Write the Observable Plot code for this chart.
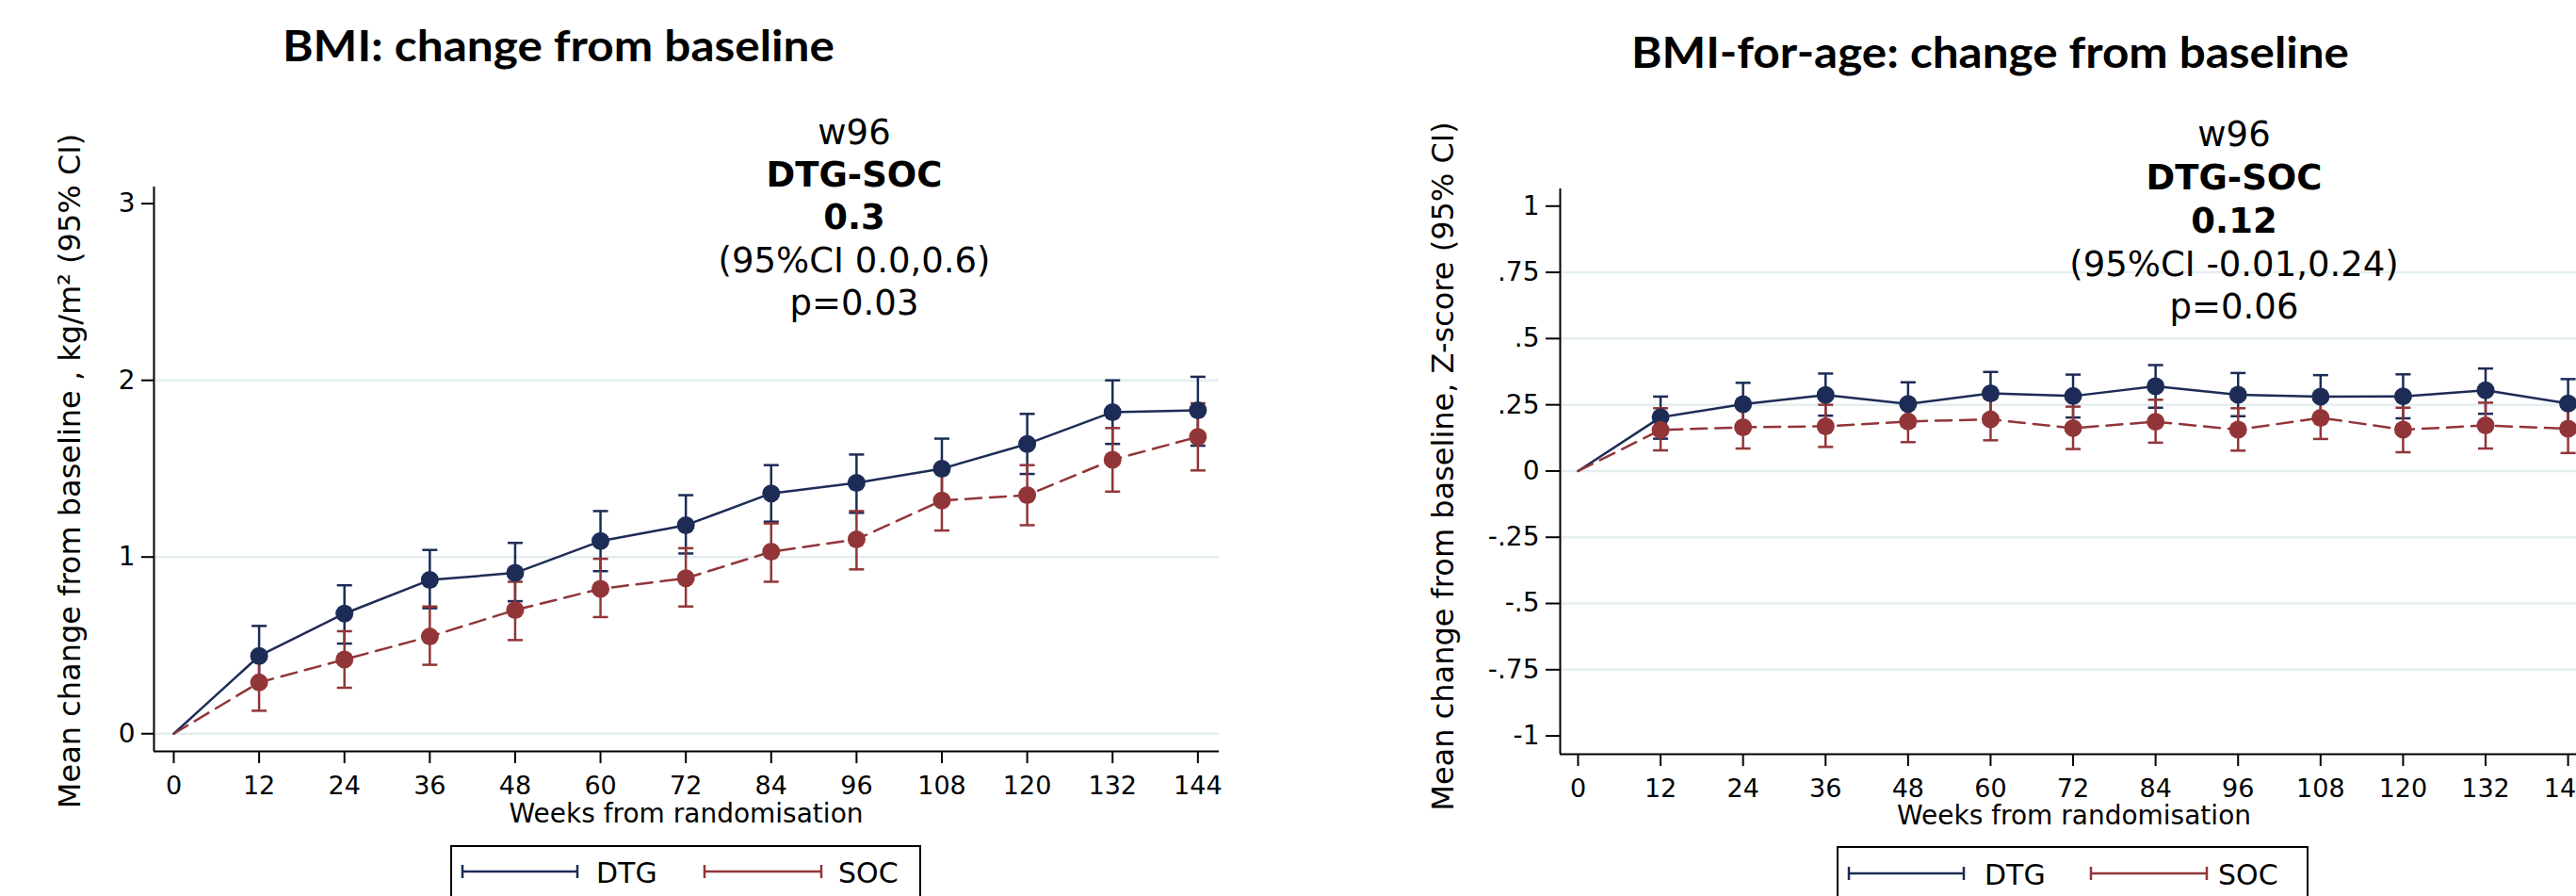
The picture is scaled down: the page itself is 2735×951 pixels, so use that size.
<!DOCTYPE html>
<html>
<head>
<meta charset="utf-8">
<script src="https://cdn.jsdelivr.net/npm/d3@7"></script>
<script src="https://cdn.jsdelivr.net/npm/@observablehq/plot@0.6"></script>
<style>
html, body { margin: 0; padding: 0; background: #fff; }
#page { position: relative; width: 2735px; height: 951px; overflow: hidden; background: #fff; }
.panel { position: absolute; }
.panel svg { max-width: none !important; }
#overlay { position: absolute; left: 0; top: 0; pointer-events: none; }
</style>
</head>
<body>
<div id="page"></div>
<script>
// ---------------- data ----------------
const weeks = [0, 12, 24, 36, 48, 60, 72, 84, 96, 108, 120, 132, 144];
const groups = ["DTG", "SOC"];

// BMI change from baseline (kg/m2)
const bmiDtgMean = [0, 0.44, 0.68, 0.87, 0.91, 1.09, 1.18, 1.36, 1.42, 1.50, 1.64, 1.82, 1.83];
const bmiDtgLo   = [null, 0.27, 0.51, 0.71, 0.75, 0.92, 1.02, 1.20, 1.25, 1.34, 1.47, 1.64, 1.63];
const bmiDtgHi   = [null, 0.61, 0.84, 1.04, 1.08, 1.26, 1.35, 1.52, 1.58, 1.67, 1.81, 2.00, 2.02];
const bmiSocMean = [0, 0.29, 0.42, 0.55, 0.70, 0.82, 0.88, 1.03, 1.10, 1.32, 1.35, 1.55, 1.68];
const bmiSocLo   = [null, 0.13, 0.26, 0.39, 0.53, 0.66, 0.72, 0.86, 0.93, 1.15, 1.18, 1.37, 1.49];
const bmiSocHi   = [null, 0.45, 0.58, 0.72, 0.86, 0.99, 1.05, 1.19, 1.26, 1.48, 1.52, 1.73, 1.87];

// BMI-for-age change from baseline (Z-score)
const zDtgMean = [0, 0.203, 0.252, 0.287, 0.253, 0.293, 0.283, 0.320, 0.288, 0.281, 0.282, 0.305, 0.255];
const zDtgLo   = [null, 0.122, 0.170, 0.209, 0.170, 0.210, 0.202, 0.239, 0.207, 0.200, 0.199, 0.216, 0.160];
const zDtgHi   = [null, 0.281, 0.333, 0.368, 0.335, 0.374, 0.364, 0.400, 0.370, 0.362, 0.365, 0.387, 0.347];
const zSocMean = [0, 0.155, 0.165, 0.169, 0.187, 0.195, 0.162, 0.186, 0.156, 0.201, 0.156, 0.172, 0.160];
const zSocLo   = [null, 0.078, 0.085, 0.091, 0.109, 0.116, 0.083, 0.107, 0.077, 0.121, 0.071, 0.085, 0.068];
const zSocHi   = [null, 0.237, 0.245, 0.250, 0.267, 0.275, 0.243, 0.269, 0.237, 0.280, 0.239, 0.258, 0.245];

// tick values
const xTicks = [0, 12, 24, 36, 48, 60, 72, 84, 96, 108, 120, 132, 144];
const bmiYTicks = [0, 1, 2, 3];
const bmiGridTicks = [0, 1, 2];
const zYTicks = [-1, -0.75, -0.5, -0.25, 0, 0.25, 0.5, 0.75, 1];
const zGridTicks = [-0.75, -0.5, -0.25, 0, 0.25, 0.5, 0.75];

// texts
const bmiTitle = "BMI: change from baseline";
const zTitle = "BMI-for-age: change from baseline";
const bmiYLabel = "Mean change from baseline , kg/m\u00B2 (95% CI)";
const zYLabel = "Mean change from baseline, Z-score (95% CI)";
const xLabel = "Weeks from randomisation";
const bmiNote = ["w96", "DTG-SOC", "0.3", "(95%CI 0.0,0.6)", "p=0.03"];
const zNote = ["w96", "DTG-SOC", "0.12", "(95%CI -0.01,0.24)", "p=0.06"];

// ---------------- styles ----------------
const navy = "#1d2c56";
const red = "#923539";
const gridColor = "#e4eef0";
const font = "DejaVu Sans";

const cap = {
  draw(context, size) {
    const w = Math.sqrt(size / Math.PI);
    context.moveTo(-w, 0);
    context.lineTo(w, 0);
  }
};

function series(mean, lo, hi, group) {
  return weeks.map((w, i) => ({week: w, mean: mean[i], lo: lo[i], hi: hi[i], group}));
}

function panel(o) {
  const dtg = series(o.dtgMean, o.dtgLo, o.dtgHi, groups[0]);
  const soc = series(o.socMean, o.socLo, o.socHi, groups[1]);
  const hasCI = d => d.lo != null;
  const notZero = d => d.week > 0;
  const bars = (data, color) => [
    Plot.ruleX(data.filter(hasCI), {x: "week", y1: "lo", y2: "hi", stroke: color, strokeWidth: 2.5}),
    Plot.dot(data.filter(hasCI), {x: "week", y: "lo", symbol: cap, r: 8, stroke: color, strokeWidth: 2.5, fill: "none"}),
    Plot.dot(data.filter(hasCI), {x: "week", y: "hi", symbol: cap, r: 8, stroke: color, strokeWidth: 2.5, fill: "none"})
  ];
  return Plot.plot({
    width: o.width,
    height: o.height,
    marginLeft: o.ml, marginRight: o.mr, marginTop: o.mt, marginBottom: o.mb,
    style: {fontFamily: font, fontSize: "27px", background: "transparent", overflow: "visible", color: "#000", maxWidth: "none"},
    x: {domain: o.xDomain},
    y: {domain: o.yDomain},
    marks: [
      Plot.gridY({ticks: o.gridTicks, stroke: gridColor, strokeOpacity: 1, strokeWidth: 2.5}),
      ...bars(dtg, navy),
      ...bars(soc, red),
      Plot.line(dtg, {x: "week", y: "mean", stroke: navy, strokeWidth: 2.5}),
      Plot.line(soc, {x: "week", y: "mean", stroke: red, strokeWidth: 2.5, strokeDasharray: "17,9"}),
      Plot.dot(dtg.filter(notZero), {x: "week", y: "mean", r: 9.5, fill: navy}),
      Plot.dot(soc.filter(notZero), {x: "week", y: "mean", r: 9.5, fill: red}),
      Plot.ruleX([o.xDomain[0]], {stroke: "#000", strokeWidth: 2}),
      Plot.ruleY([o.yDomain[0]], {stroke: "#000", strokeWidth: 2}),
      Plot.axisX({ticks: xTicks, tickSize: 13, tickPadding: 13, fontSize: 27, strokeWidth: 2, label: null, tickFormat: d => String(d)}),
      Plot.axisY({ticks: o.yTicks, tickSize: o.tickSize, tickPadding: 7, fontSize: 28, strokeWidth: 2, label: null, tickFormat: o.fmt})
    ]
  });
}

const page = document.getElementById("page");

function place(node, left, top, width, height) {
  const d = document.createElement("div");
  d.className = "panel";
  d.style.left = left + "px";
  d.style.top = top + "px";
  d.style.width = width + "px";
  d.style.height = height + "px";
  d.appendChild(node);
  page.appendChild(d);
}

place(panel({
  dtgMean: bmiDtgMean, dtgLo: bmiDtgLo, dtgHi: bmiDtgHi,
  socMean: bmiSocMean, socLo: bmiSocLo, socHi: bmiSocHi,
  width: 1330, height: 790, ml: 163, mr: 36, mt: 98, mb: 93,
  xDomain: [-2.78, 147], yDomain: [-0.1, 3.094],
  yTicks: bmiYTicks, gridTicks: bmiGridTicks, tickSize: 13,
  fmt: d => String(d)
}), 0, 100, 1330, 790);

place(panel({
  dtgMean: zDtgMean, dtgLo: zDtgLo, dtgHi: zDtgHi,
  socMean: zSocMean, socLo: zSocLo, socHi: zSocHi,
  width: 1384, height: 790, ml: 256, mr: 36, mt: 100, mb: 90,
  xDomain: [-2.6, 147], yDomain: [-1.069, 1.065],
  yTicks: zYTicks, gridTicks: zGridTicks, tickSize: 15,
  fmt: d => d === 0 ? "0" : String(d).replace(/^(-?)0\./, "$1.")
}), 1400, 100, 1384, 790);

// ---------------- overlay texts & legends ----------------
const svg = d3.select(page).append("svg")
  .attr("id", "overlay")
  .attr("width", 2735).attr("height", 951)
  .attr("font-family", font);

function title(text, cx, baseline, len) {
  svg.append("text").attr("x", cx).attr("y", baseline)
    .attr("text-anchor", "middle")
    .attr("font-family", "Lato").attr("font-weight", "bold").attr("font-size", 46)
    .attr("textLength", len).attr("lengthAdjust", "spacingAndGlyphs")
    .text(text);
}
title(bmiTitle, 593, 65, 586);
title(zTitle, 2113, 72, 762);

function note(lines, cx, baselines) {
  lines.forEach((t, i) => {
    svg.append("text").attr("x", cx).attr("y", baselines[i])
      .attr("text-anchor", "middle").attr("font-size", 37)
      .attr("font-weight", (i === 1 || i === 2) ? "bold" : "normal")
      .text(t);
  });
}
note(bmiNote, 907, [153, 198, 243, 289, 334]);
note(zNote, 2372, [155, 201, 247, 293, 338]);

function ylabel(text, x, cy) {
  svg.append("text").attr("transform", `translate(${x},${cy}) rotate(-90)`)
    .attr("text-anchor", "middle").attr("font-size", 32).text(text);
}
ylabel(bmiYLabel, 85, 500);
ylabel(zYLabel, 1543, 495);

function xlabel(text, cx, baseline) {
  svg.append("text").attr("x", cx).attr("y", baseline)
    .attr("text-anchor", "middle").attr("font-size", 28).text(text);
}
xlabel(xLabel, 728.5, 873);
xlabel(xLabel, 2202, 875);

function legend(left, top, width, items) {
  svg.append("rect").attr("x", left).attr("y", top).attr("width", width).attr("height", 90)
    .attr("fill", "none").attr("stroke", "#000").attr("stroke-width", 2);
  items.forEach(it => {
    const g = svg.append("g").attr("stroke", it.color).attr("stroke-width", 2.5);
    g.append("line").attr("x1", it.x1).attr("x2", it.x2).attr("y1", it.y).attr("y2", it.y);
    g.append("line").attr("x1", it.x1).attr("x2", it.x1).attr("y1", it.y - 7).attr("y2", it.y + 7);
    g.append("line").attr("x1", it.x2).attr("x2", it.x2).attr("y1", it.y - 7).attr("y2", it.y + 7);
    svg.append("text").attr("x", it.tx).attr("y", it.y + 12).attr("font-size", 30).text(it.label);
  });
}
legend(479, 898, 498, [
  {label: groups[0], color: navy, x1: 491, x2: 613, y: 925, tx: 633},
  {label: groups[1], color: red, x1: 748, x2: 872, y: 925, tx: 890}
]);
legend(1951, 899, 499, [
  {label: groups[0], color: navy, x1: 1963, x2: 2085, y: 927, tx: 2107},
  {label: groups[1], color: red, x1: 2220, x2: 2343, y: 927, tx: 2355}
]);
</script>
</body>
</html>
